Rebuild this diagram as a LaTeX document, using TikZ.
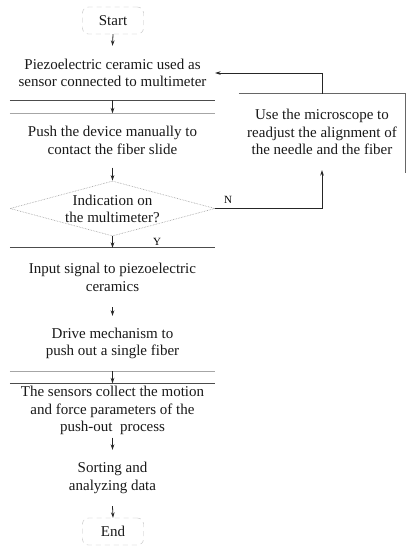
\documentclass[tikz,border=0pt]{standalone}
\usepackage{fontspec}
\setmainfont{Liberation Serif}
\usetikzlibrary{shapes.geometric,arrows.meta}
\begin{document}
\begin{tikzpicture}[x=1pt,y=-1pt,
  txt/.style={font=\fontsize{15}{17.5}\selectfont, align=center, inner sep=0pt, text=black!90},
  stepbox/.style={txt, draw=none, minimum width=205pt},
  term/.style={txt, draw=black!25, dash pattern=on 5pt off 4pt, rounded corners=6pt, minimum width=61pt, minimum height=27pt},
  decbox/.style={txt, diamond, draw=black!40, densely dotted, line width=0.6pt, minimum width=205pt, minimum height=55pt, aspect=3.7},
  arr/.style={-{Stealth[length=5.5pt,width=3.6pt]}, line width=0.8pt, black!85},
  edgedark/.style={line width=0.9pt, black!70},
  edgelight/.style={line width=0.7pt, black!35},
  lbl/.style={font=\fontsize{11}{13}\selectfont, inner sep=0pt}]
\useasboundingbox (0,0) rectangle (412,550);
\fill[white] (0,0) rectangle (412,550);

\node[term] (start) at (113,20.5) {Start};
\node[stepbox, minimum height=54pt] (b1) at (112.5,73) {Piezoelectric ceramic used as\\sensor connected to multimeter};
\node[stepbox, minimum height=54pt] (b2) at (112.5,140.5) {Push the device manually to\\contact the fiber slide};
\node[decbox] (dec) at (112.5,208.5) {};
\node[txt] (dectext) at (112.5,209) {Indication on\\the multimeter?};
\node[stepbox, minimum height=59pt] (b3) at (112.5,277.5) {Input signal to piezoelectric\\ceramics};
\node[stepbox, minimum height=55pt] (b4) at (112.5,343.5) {Drive mechanism to\\push out a single fiber};
\node[stepbox, minimum height=54pt] (b5) at (112.5,410.5) {The sensors collect the motion\\and force parameters of the\\push-out\ \ process};
\node[stepbox, minimum height=56pt] (b6) at (112.5,478) {Sorting and\\analyzing data};
\node[term] (end) at (113,531.5) {End};
\node[txt, draw=none, minimum width=166pt, minimum height=76pt] (fix) at (322,132) {Use the microscope to\\readjust the alignment of\\the needle and the fiber};

% visible box edges
\draw[edgedark] (b1.south west) -- (b1.south east);
\draw[edgelight] (b2.north west) -- (b2.north east);
\draw[edgedark] (b3.north west) -- (b3.north east);
\draw[edgelight] (b4.south west) -- (b4.south east);
\draw[edgedark] (b5.north west) -- (b5.north east);
\draw[line width=0.8pt, black!60] (fix.north west) -- (fix.north east) -- ([yshift=-3pt]fix.south east);

% connectors
\draw[arr] (start.south) -- (b1.north);
\draw[arr] (b1.south) -- (b2.north);
\draw[arr] (b2.south) -- (dec.north);
\draw[arr] (dec.south) -- (b3.north);
\draw[arr] (b3.south) -- (b4.north);
\draw[arr] (b4.south) -- (b5.north);
\draw[arr] (b5.south) -- (b6.north);
\draw[arr] (b6.south) -- (end.north);
\draw[arr] (dec.east) -| (fix.south);
\draw[arr] (fix.north) |- (b1.east);

\node[lbl] (nlbl) at (228,200) {N};
\node[lbl] (ylbl) at (157,242) {Y};
\end{tikzpicture}
\end{document}
